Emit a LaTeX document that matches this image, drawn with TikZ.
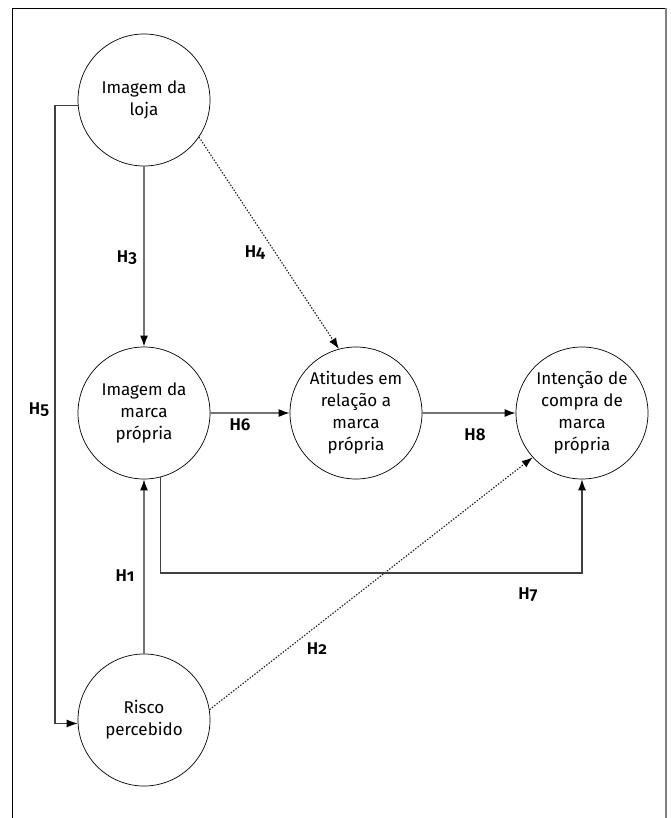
\documentclass[tikz,border=0pt]{standalone}
\usepackage{fontspec}
\setmainfont{Fira Sans}[Numbers=OldStyle,BoldFont={Fira Sans SemiBold}]
\usetikzlibrary{arrows.meta}
\begin{document}
\begin{tikzpicture}[x=1pt,y=-1pt,
  cnode/.style={circle,draw=black,line width=0.7pt,minimum size=132pt,inner sep=0pt,align=center,font=\fontsize{17}{22}\selectfont},
  conn/.style={draw=black!55,line width=1.4pt,-{Latex[length=11pt,width=8pt,black]}},
  dotconn/.style={draw=black!90,line width=1.1pt,dash pattern=on 1.4pt off 1.6pt,-{Latex[length=11pt,width=8pt,black]}},
  hlab/.style={font=\bfseries\fontsize{17}{20}\selectfont,inner sep=0pt}]
\useasboundingbox (0,0) rectangle (670,818);
\fill[white] (0,0) rectangle (670,818);
% frame
\draw[black,line width=0.9pt] (12,818) -- (12,8) -- (666,8);
\draw[black!50,line width=2pt] (666,8) -- (666,818);
% nodes
\node[cnode] (loja) at (144,100) {Imagem da\\loja};
\node[cnode] (marca) at (144,413) {Imagem da\\marca\\própria};
\node[cnode] (risco) at (144,720) {Risco\\percebido};
\node[cnode] (atit) at (356,413) {Atitudes em\\relação a\\marca\\própria};
\node[cnode] (inten) at (582,413) {Intenção de\\compra de\\marca\\própria};
\coordinate (h5c) at (55,400);
\coordinate (h7c) at (400,573);
% connectors
\draw[conn] (loja.south) -- (marca.north);
\draw[conn] (marca.east) -- (atit.west);
\draw[conn] (atit.east) -- (inten.west);
\draw[conn] (risco.north) -- (marca.south);
\draw[dotconn] (loja.-34) -- (atit.105);
\draw[dotconn] (risco.9) -- (inten.222);
\draw[conn,draw=black!75,line width=1.1pt] (loja.185) -| (h5c) |- (risco.183);
\draw[conn,draw=black!75,line width=1.1pt] (marca.-76) |- (h7c) -| (inten.south);
% labels
\node[hlab] (l3) at (127,258) {H3};
\node[hlab] (l4) at (255,253) {H4};
\node[hlab] (l6) at (240,425) {H6};
\node[hlab] (l8) at (475,435) {H8};
\node[hlab] (l5) at (39,410) {H5};
\node[hlab] (l1) at (125,576) {H1};
\node[hlab] (l2) at (317,649) {H2};
\node[hlab] (l7) at (528,595) {H7};
\end{tikzpicture}
\end{document}
